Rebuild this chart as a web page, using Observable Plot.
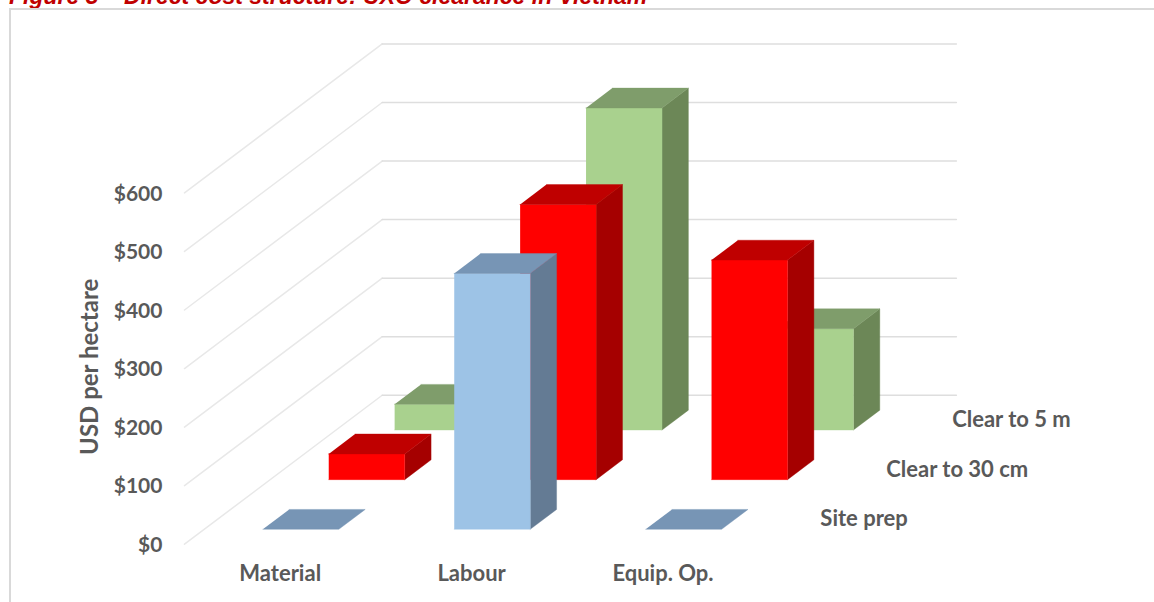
<!DOCTYPE html>
<html>
<head>
<meta charset="utf-8">
<script src="https://cdn.jsdelivr.net/npm/d3@7"></script>
<script src="https://cdn.jsdelivr.net/npm/@observablehq/plot@0.6"></script>
<style>
  html, body { margin: 0; padding: 0; background: #fff; overflow: hidden; }
  #wrap { position: relative; width: 1154px; height: 602px; overflow: hidden; }
  #title { position: absolute; left: 9px; top: -17px; margin: 0; font: italic bold 23px "Liberation Sans", Arial, sans-serif; color: #C00000; white-space: nowrap; }
  #frame { position: absolute; left: 9px; top: 8px; right: -4px; bottom: -4px; border: 2px solid #d9d9d9; }
  #chart { position: absolute; left: 0; top: 0; }
  svg { display: block; background: transparent; }
</style>
</head>
<body>
<div id="wrap">
  <h1 id="title">Figure 3 – Direct cost structure: UXO clearance in Vietnam</h1>
  <div id="frame"></div>
  <div id="chart"></div>
</div>
<script>
const categories = ["Material", "Labour", "Equip. Op."];
const seriesNames = ["Site prep", "Clear to 30 cm", "Clear to 5 m"];
const sitePrep = [0, 437, 0];
const clearTo30cm = [44, 470, 375];
const clearTo5m = [44, 550, 173];
const tickValues = [0, 100, 200, 300, 400, 500, 600];
const frontColors = ["#9DC3E6", "#FF0000", "#A9D18E"];
const sideColors = ["#647B94", "#A50000", "#6C8757"];
const topColors = ["#7795B5", "#BF0000", "#7F9D6B"];
const seriesValues = [sitePrep, clearTo30cm, clearTo5m];

// Oblique 3D projection: u = category axis, v = series (depth) axis, h = dollars
const shearX = 0.3443, riseY = 84.8;
const P = (u, v, h) => ({x: u + v * shearX, y: h + v * riseY});

const face = (id, color, corners) => corners.map(([u, v, h]) => ({id, color, ...P(u, v, h)}));

const grid = tickValues.flatMap((t) => [
  ...face("d" + t, "#e8e8e8", [[0, 0, t], [0, 3, t]]),
  ...face("b" + t, "#dedede", [[0, 3, t], [3, 3, t]])
]);

const faces = [];
for (const s of [2, 1, 0]) {
  categories.forEach((_, c) => {
    const h = seriesValues[s][c];
    const u0 = c + 0.306, u1 = c + 0.703, v0 = s + 0.3, v1 = s + 0.7;
    if (h > 0) {
      faces.push(...face(`s${s}${c}`, sideColors[s], [[u1, v0, 0], [u1, v1, 0], [u1, v1, h], [u1, v0, h]]));
      faces.push(...face(`f${s}${c}`, frontColors[s], [[u0, v0, 0], [u1, v0, 0], [u1, v0, h], [u0, v0, h]]));
    }
    faces.push(...face(`t${s}${c}`, topColors[s], [[u0, v0, h], [u1, v0, h], [u1, v1, h], [u0, v1, h]]));
  });
}

const font = "Lato, sans-serif";
const textStyle = {fontFamily: font, fontWeight: 700, fill: "#595959", fontSize: 22, dy: 0};

const pxPerCat = 191.4, pxPerDollar = 0.5855, originX = 184, originY = 543.7;
const chart = Plot.plot({
  width: 1154, height: 602,
  margin: 0,
  style: {background: "transparent"},
  x: {axis: null, domain: [-originX / pxPerCat, (1154 - originX) / pxPerCat], range: [0, 1154]},
  y: {axis: null, domain: [(originY - 602) / pxPerDollar, originY / pxPerDollar], range: [602, 0]},
  marks: [
    Plot.line(grid, {x: "x", y: "y", z: "id", stroke: "color", strokeWidth: 1.5}),
    Plot.line(faces, {x: "x", y: "y", z: "id", fill: "color", stroke: "color", strokeWidth: 0.4}),
    Plot.text(tickValues, {x: () => -0.115, y: (d) => d, text: (d) => "$" + d, textAnchor: "end", ...textStyle, fontSize: 21, dy: 1}),
    Plot.text(categories, {x: (d, i) => i + 0.5, y: () => -51, text: (d) => d, ...textStyle}),
    Plot.text(seriesNames, {x: (d, i) => P(3.15, i + 0.5, 0).x, y: (d, i) => P(3.15, i + 0.5, 0).y, text: (d) => d, textAnchor: "start", ...textStyle}),
    Plot.text(["USD per hectare"], {x: () => -0.494, y: () => 303, text: (d) => d, rotate: -90, ...textStyle, fontSize: 24})
  ]
});
document.getElementById("chart").appendChild(chart);
</script>
</body>
</html>
